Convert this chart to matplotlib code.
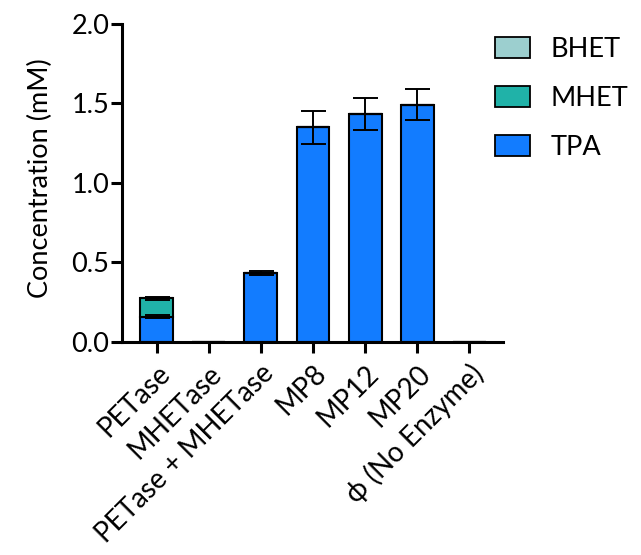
import matplotlib
matplotlib.use("Agg")
import matplotlib.pyplot as plt
import numpy as np
from matplotlib.patches import Patch

plt.rcParams['font.family'] = ['Lato', 'DejaVu Sans']

categories = ["PETase", "MHETase", "PETase + MHETase", "MP8", "MP12", "MP20", "ϕ (No Enzyme)"]
tpa = [0.16, 0.0, 0.435, 1.35, 1.435, 1.492, 0.0]
tpa_err = [0.012, 0.0, 0.012, 0.105, 0.10, 0.097, 0.0]
mhet = [0.115, 0.0, 0.0, 0.0, 0.0, 0.0, 0.0]
mhet_err = [0.01, 0.0, 0.0, 0.0, 0.0, 0.0, 0.0]
bhet = [0.0, 0.0, 0.0, 0.0, 0.0, 0.0, 0.0]
yticks = [0.0, 0.5, 1.0, 1.5, 2.0]

c_bhet = "#9ccfcf"
c_mhet = "#20b2a8"
c_tpa = "#127cff"

FS = 19.5

fig = plt.figure(figsize=(6.41, 5.55), dpi=100)
ax = fig.add_axes([0.19, 0.3838, 0.595, 0.573])

x = np.arange(len(categories))
w = 0.63
tpa = np.array(tpa); mhet = np.array(mhet); bhet = np.array(bhet)

ax.bar(x, tpa, w, color=c_tpa, edgecolor="black", linewidth=1.5, zorder=2)
ax.bar(x, mhet, w, bottom=tpa, color=c_mhet, edgecolor="black", linewidth=1.5, zorder=2)
ax.bar(x, bhet, w, bottom=tpa + mhet, color=c_bhet, edgecolor="black", linewidth=1.5, zorder=2)

for i in range(len(x)):
    if tpa[i] > 0:
        ax.errorbar(x[i], tpa[i], yerr=tpa_err[i], fmt="none", ecolor="black",
                    elinewidth=1.4, capsize=9, capthick=1.4, zorder=3)
    if mhet[i] > 0:
        ax.errorbar(x[i], tpa[i] + mhet[i], yerr=mhet_err[i], fmt="none", ecolor="black",
                    elinewidth=1.4, capsize=9, capthick=1.4, zorder=3)

ax.set_xlim(-0.67, 6.65)
ax.set_ylim(0, 2.0)
ax.set_yticks(yticks)
ax.set_yticklabels([f"{v:.1f}" for v in yticks], fontsize=FS)
ax.set_xticks(x)
ax.set_xticklabels(categories, rotation=45, ha="right", rotation_mode="anchor", fontsize=20)
ax.set_ylabel("Concentration (mM)", fontsize=FS)
ax.yaxis.set_label_coords(-0.18, 0.515)

for s in ["top", "right"]:
    ax.spines[s].set_visible(False)
for s in ["left", "bottom"]:
    ax.spines[s].set_linewidth(2.2)
ax.tick_params(axis="y", direction="out", length=8, width=2.2, pad=1)
ax.tick_params(axis="x", direction="out", length=8, width=2.2, pad=5)
ax.spines['bottom'].set_zorder(4)

handles = [Patch(facecolor=c_bhet, edgecolor="black", linewidth=1.3, label="BHET"),
           Patch(facecolor=c_mhet, edgecolor="black", linewidth=1.3, label="MHET"),
           Patch(facecolor=c_tpa, edgecolor="black", linewidth=1.3, label="TPA")]
fig.legend(handles=handles, loc="upper left", bbox_to_anchor=(495/641, 1 - 37/555), frameon=False,
           fontsize=FS, handlelength=1.3, handleheight=0.8, handletextpad=0.75,
           labelspacing=0.88, borderpad=0, borderaxespad=0)

fig.savefig("out.png", dpi=100)
